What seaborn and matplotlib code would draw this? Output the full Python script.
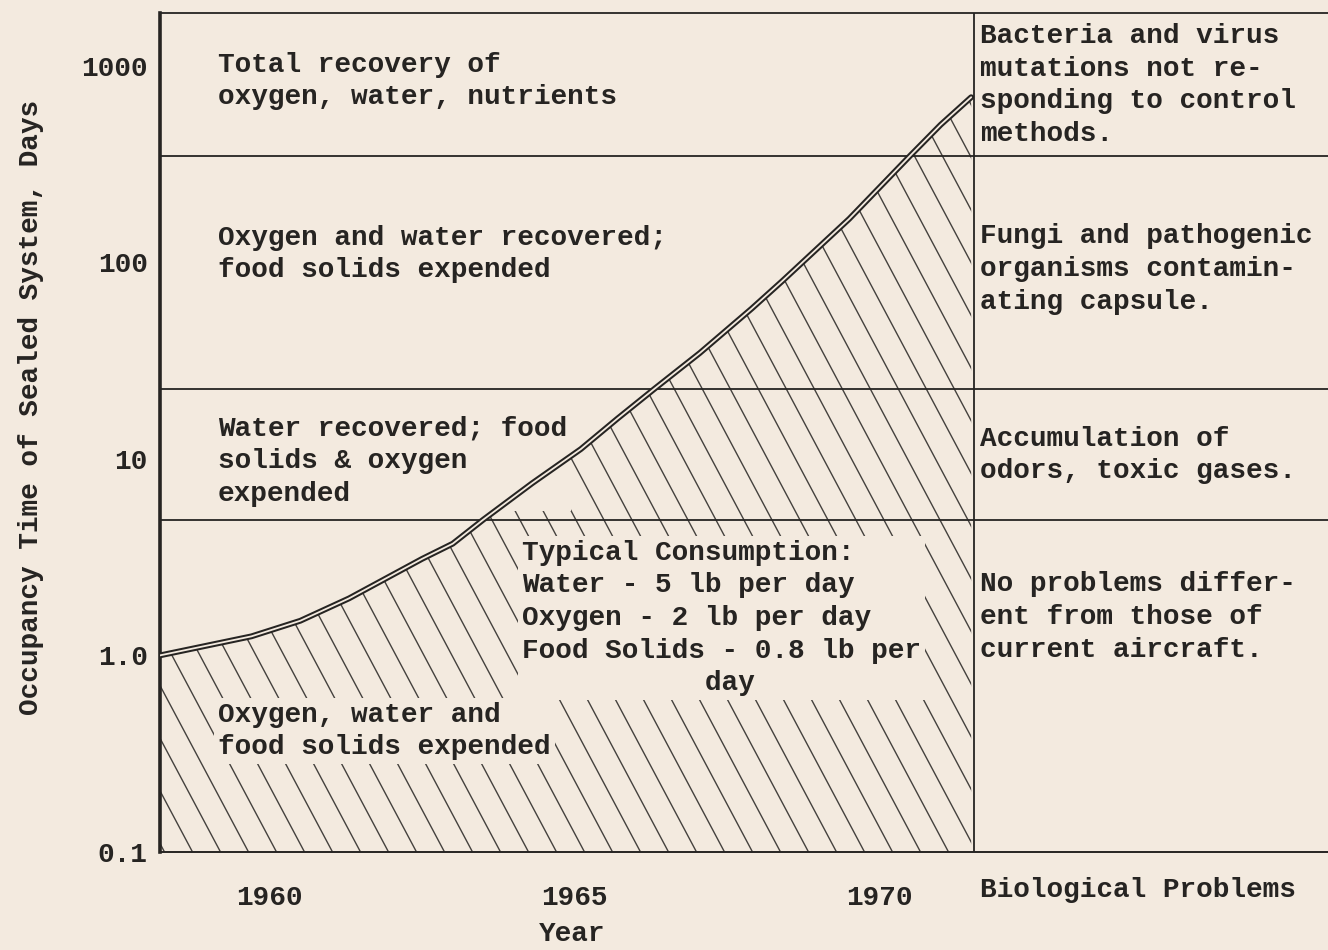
import numpy as np
import matplotlib
matplotlib.use("Agg")
import matplotlib.pyplot as plt
import seaborn as sns
from matplotlib.collections import LineCollection
from matplotlib.ticker import NullLocator

# --- Data ---
years = [1958.2, 1959.7, 1960.5, 1961.3, 1962.5, 1963.0, 1963.5, 1964.3,
         1965.1, 1965.7, 1966.3, 1967.05, 1967.9, 1968.4, 1969.5, 1970.5,
         1971.0, 1971.5]
days = [1.0, 1.25, 1.5, 1.95, 3.1, 3.7, 4.9, 7.5,
        11.2, 16.0, 22.6, 34.5, 58.0, 80.0, 166.0, 348.0,
        500.0, 690.0]

zone_limits = [4.9, 22.6, 348.0]
divider_year = 1971.55

year_ticks = [1960, 1965, 1970]
day_ticks = [0.1, 1.0, 10, 100, 1000]
day_tick_labels = ["0.1", "1.0", "10", "100", "1000"]

zone_labels = [
    "Total recovery of\noxygen, water, nutrients",
    "Oxygen and water recovered;\nfood solids expended",
    "Water recovered; food\nsolids & oxygen\nexpended",
    "Oxygen, water and\nfood solids expended",
]
problem_labels = [
    "Bacteria and virus\nmutations not re-\nsponding to control\nmethods.",
    "Fungi and pathogenic\norganisms contamin-\nating capsule.",
    "Accumulation of\nodors, toxic gases.",
    "No problems differ-\nent from those of\ncurrent aircraft.",
]
consumption_note = ("Typical Consumption:\nWater - 5 lb per day\n"
                    "Oxygen - 2 lb per day\nFood Solids - 0.8 lb per\n"
                    "           day")

# --- Style ---
W, H = 1328, 950
PAPER = "#f3eadf"
INK = "#262422"

sns.set_theme(style="white")
plt.rcParams["font.family"] = ["Liberation Mono", "DejaVu Sans Mono"]
plt.rcParams["font.weight"] = "bold"
plt.rcParams["text.color"] = INK
plt.rcParams["axes.labelcolor"] = INK
plt.rcParams["axes.labelweight"] = "bold"
plt.rcParams["xtick.color"] = INK
plt.rcParams["ytick.color"] = INK

FS = 20
LS = 1.33
CLEAR = dict(facecolor=PAPER, edgecolor="none", pad=3)


def px(x, y):
    """pixel position in the reference -> figure fraction"""
    return x / W, 1 - y / H


fig = plt.figure(figsize=(W / 100, H / 100), dpi=100, facecolor=PAPER)
ax_left, ax_top, ax_bottom = 160, 13, 852
ax = fig.add_axes([ax_left / W, 1 - ax_bottom / H, 1 - ax_left / W,
                   (ax_bottom - ax_top) / H])
ax.set_facecolor(PAPER)

ax.set_yscale("log")
ax.set_xlim(1958.2, 1977.35)
ax.set_ylim(0.1, 1850)

# hatched area under the curve
fill = ax.fill_between(years, 0.1, days, facecolor="none", edgecolor="none")
w_px = W - ax_left
h_px = ax_bottom - ax_top
slope = np.tan(np.radians(62))
dx = h_px / (slope * w_px)
segs = [[(c, 1.0), (c + dx, 0.0)] for c in np.arange(-0.45, 0.8, 28 / w_px)]
hatch = LineCollection(segs, colors=INK, linewidths=1.0, alpha=0.85,
                       transform=ax.transAxes, zorder=1)
ax.add_collection(hatch)
hatch.set_clip_path(fill.get_paths()[0], ax.transData)

# zone boundaries and divider
for lim in zone_limits:
    ax.axhline(lim, color=INK, lw=1.3, zorder=3)
ax.axvline(divider_year, color=INK, lw=1.3, zorder=3)

# double-ruled curve
sns.lineplot(x=years, y=days, ax=ax, color=INK, lw=4.2, sort=False,
             zorder=4)
sns.lineplot(x=years, y=days, ax=ax, color=PAPER, lw=1.3, sort=False,
             zorder=5)

# axes dressing
for side in ["left", "bottom", "top"]:
    ax.spines[side].set_color(INK)
ax.spines["left"].set_linewidth(2.6)
ax.spines["bottom"].set_linewidth(1.4)
ax.spines["top"].set_linewidth(1.3)
ax.spines["right"].set_visible(False)

ax.set_yticks(day_ticks)
ax.set_yticklabels(day_tick_labels)
ax.yaxis.set_minor_locator(NullLocator())
ax.tick_params(axis="y", direction="in", length=10, width=1.5, pad=9,
               labelsize=FS)
ax.set_xticks(year_ticks)
ax.set_xticklabels([str(y) for y in year_ticks])
ax.tick_params(axis="x", length=0, pad=24, labelsize=FS)

ax.set_xlabel("Year", fontsize=FS)
ax.xaxis.set_label_coords((572 - ax_left) / w_px, (ax_bottom - 921) / h_px)
ax.set_ylabel("Occupancy Time of Sealed System, Days", fontsize=FS)
ax.yaxis.set_label_coords((44 - ax_left) / w_px, (ax_bottom - 407) / h_px)

# zone texts (top to bottom); drawn in the axes so the paper-coloured
# box only hides the hatching, not the curve or the ruled lines
zone_y = [81, 254, 461, 731]
for label, y in zip(zone_labels, zone_y):
    ax.text(*px(218, y), label, fontsize=FS, va="center", ha="left",
            linespacing=LS, bbox=CLEAR, transform=fig.transFigure,
            zorder=2)

ax.text(*px(522, 618), consumption_note, fontsize=FS, va="center",
        ha="left", linespacing=LS, bbox=CLEAR, transform=fig.transFigure,
        zorder=2)

problem_y = [85, 269, 455, 617]
for label, y in zip(problem_labels, problem_y):
    fig.text(*px(980, y), label, fontsize=FS, va="center", ha="left",
             linespacing=LS)

fig.text(*px(980, 890), "Biological Problems", fontsize=FS, va="center",
         ha="left")

fig.savefig("out.png", dpi=100, facecolor=PAPER)
